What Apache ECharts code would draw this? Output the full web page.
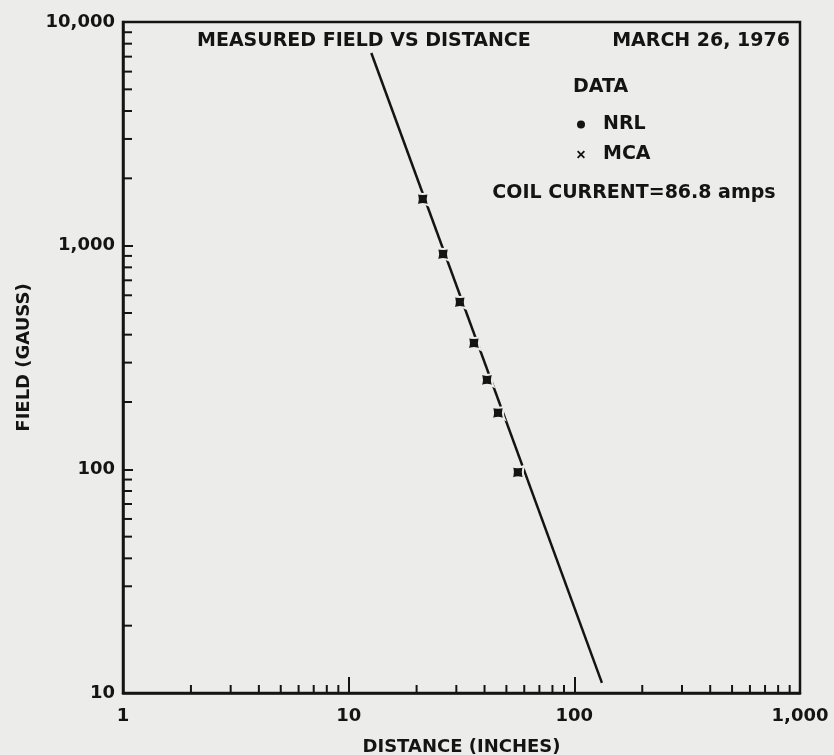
<!DOCTYPE html>
<html>
<head>
    <meta charset="utf-8" />
    <script src="https://cdn.jsdelivr.net/npm/echarts@6/dist/echarts.min.js"></script>
    <style>html, body { margin: 0; padding: 0; background: #ececea; }</style>
</head>
<body>
    <div id="main" style="width: 834px; height: 755px;"></div>
    <script type="text/javascript">
        // measured points (MCA), distance in inches / field in gauss
        var distance = [21.3, 26.2, 31.1, 35.9, 41.0, 45.9, 56.2];
        var fieldMCA = [1617, 918, 560, 367, 251, 179, 97];
        // NRL has a legend entry but no points on the sheet
        var fieldNRL = [];
        // fitted line end points
        var fitDistance = [12.6, 132.5];
        var fitField = [7270, 11.1];

        var xTicks = [1, 10, 100, 1000];
        var xTickLabels = ['1', '10', '100', '1,000'];
        var yTicks = [10, 100, 1000, 10000];
        var yTickLabels = ['10', '100', '1,000', '10,000'];
        var xMinor = [2, 3, 4, 5, 6, 7, 8, 9, 20, 30, 40, 50, 60, 70, 80, 90, 200, 300, 400, 500, 600, 700, 800, 900];
        var yMinor = [20, 30, 40, 50, 60, 70, 80, 90, 200, 300, 400, 500, 600, 700, 800, 900, 2000, 3000, 4000, 5000, 6000, 7000, 8000, 9000];

        var ink = '#141414';
        var paper = '#ececea';
        var font = 'DejaVu Sans';
        var textFont = 'bold 19px "DejaVu Sans"';

        var myChart = echarts.init(document.getElementById('main'));

        function tickLabel(ticks, labels) {
            return function (v) {
                for (var i = 0; i < ticks.length; i++) {
                    if (Math.abs(Math.log10(v) - Math.log10(ticks[i])) < 1e-6) return labels[i];
                }
                return '';
            };
        }

        var labelStyle = { color: ink, fontFamily: font, fontSize: 18, fontWeight: 'bold' };

        var option = {
            backgroundColor: paper,
            animation: false,
            grid: {
                left: 123, right: 34, top: 22, bottom: 62,
                outerBoundsMode: 'none',
                show: true, borderColor: ink, borderWidth: 2.5
            },
            graphic: [
                { type: 'text', x: 197, y: 41, style: { text: 'MEASURED FIELD VS DISTANCE', font: textFont, fill: ink, textAlign: 'left', textVerticalAlign: 'middle' } },
                { type: 'text', x: 790, y: 41, style: { text: 'MARCH 26, 1976', font: textFont, fill: ink, textAlign: 'right', textVerticalAlign: 'middle' } },
                { type: 'text', x: 573, y: 87, style: { text: 'DATA', font: textFont, fill: ink, textAlign: 'left', textVerticalAlign: 'middle' } },
                { type: 'text', x: 634, y: 193, style: { text: 'COIL CURRENT=86.8 amps', font: textFont, fill: ink, textAlign: 'center', textVerticalAlign: 'middle' } }
            ],
            legend: {
                orient: 'vertical',
                left: 572,
                top: 110,
                itemWidth: 8,
                itemHeight: 8,
                itemGap: 11,
                data: [
                    { name: 'NRL', icon: 'circle' },
                    { name: 'MCA', icon: 'path://M0,1.6L1.6,0L5,3.4L8.4,0L10,1.6L6.6,5L10,8.4L8.4,10L5,6.6L1.6,10L0,8.4L3.4,5Z' }
                ],
                itemStyle: { borderWidth: 0, color: ink, opacity: 1 },
                textStyle: { color: ink, fontFamily: font, fontSize: 19, fontWeight: 'bold', lineHeight: 19, padding: [0, 0, 0, 13] },
                selectedMode: false
            },
            xAxis: {
                type: 'log',
                logBase: 10,
                min: 1,
                max: 1000,
                name: 'DISTANCE (INCHES)',
                nameLocation: 'middle',
                nameGap: 45,
                nameTextStyle: labelStyle,
                axisLine: { lineStyle: { color: ink, width: 2.5 } },
                axisTick: { inside: true, length: 16, lineStyle: { color: ink, width: 2 } },
                splitLine: { show: false },
                axisLabel: Object.assign({ margin: 14, showMinLabel: true, showMaxLabel: true, formatter: tickLabel(xTicks, xTickLabels) }, labelStyle)
            },
            yAxis: {
                type: 'log',
                logBase: 10,
                min: 10,
                max: 10000,
                name: 'FIELD (GAUSS)',
                nameLocation: 'middle',
                nameGap: 90,
                nameTextStyle: labelStyle,
                axisLine: { lineStyle: { color: ink, width: 2.5 } },
                axisTick: { inside: true, length: 10, lineStyle: { color: ink, width: 2 } },
                splitLine: { show: false },
                axisLabel: Object.assign({ margin: 8, showMinLabel: true, showMaxLabel: true, formatter: tickLabel(yTicks, yTickLabels) }, labelStyle)
            },
            series: [
                {
                    name: 'fit',
                    type: 'line',
                    data: fitDistance.map(function (d, i) { return [d, fitField[i]]; }),
                    showSymbol: false,
                    lineStyle: { color: ink, width: 2.5 },
                    z: 2,
                    silent: true
                },
                {
                    name: 'NRL',
                    type: 'scatter',
                    data: fieldNRL,
                    symbol: 'circle',
                    itemStyle: { color: ink, opacity: 1 }
                },
                {
                    name: 'MCA',
                    type: 'scatter',
                    data: distance.map(function (d, i) { return [d, fieldMCA[i]]; }),
                    symbol: 'path://M0,0Q5,2.4 10,0Q7.6,5 10,10Q5,7.6 0,10Q2.4,5 0,0Z',
                    symbolSize: 13,
                    itemStyle: { color: ink, borderColor: paper, borderWidth: 2, opacity: 1 },
                    z: 3
                },
                {
                    name: 'xminor',
                    type: 'custom',
                    silent: true,
                    data: xMinor.map(function (v) { return [v, 10]; }),
                    renderItem: function (params, api) {
                        var p = api.coord([api.value(0), api.value(1)]);
                        return { type: 'line', shape: { x1: p[0], y1: p[1], x2: p[0], y2: p[1] - 8 }, style: { stroke: ink, lineWidth: 2 } };
                    }
                },
                {
                    name: 'yminor',
                    type: 'custom',
                    silent: true,
                    data: yMinor.map(function (v) { return [1, v]; }),
                    renderItem: function (params, api) {
                        var p = api.coord([api.value(0), api.value(1)]);
                        return { type: 'line', shape: { x1: p[0], y1: p[1], x2: p[0] + 9, y2: p[1] }, style: { stroke: ink, lineWidth: 2 } };
                    }
                }
            ]
        };

        myChart.setOption(option);
    </script>
</body>
</html>
